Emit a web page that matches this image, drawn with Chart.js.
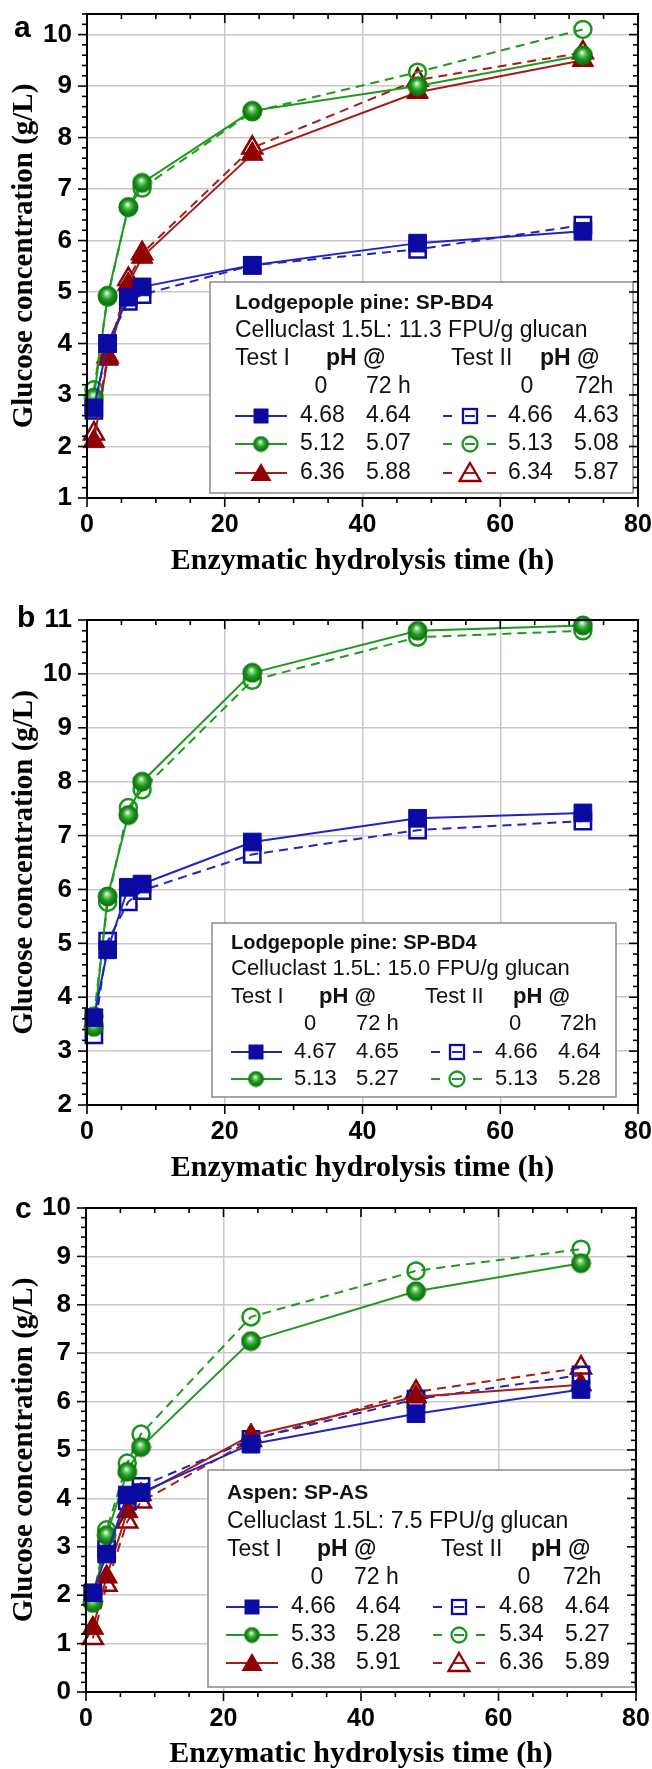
<!DOCTYPE html>
<html><head><meta charset="utf-8">
<script src="https://cdn.jsdelivr.net/npm/chart.js@4/dist/chart.umd.min.js"></script>
<style>
html,body{margin:0;padding:0;background:#fff;}
body{width:652px;height:1769px;position:relative;overflow:hidden;}
.p{position:absolute;left:0;width:652px;}
canvas{display:block;}
</style></head><body>
<div class="p" style="top:0;height:585px"><canvas id="ca"></canvas></div>
<div class="p" style="top:585px;height:600px"><canvas id="cb"></canvas></div>
<div class="p" style="top:1185px;height:584px"><canvas id="cc"></canvas></div>
<script>
// ---------------- DATA ----------------
const hours = [1, 3, 6, 8, 24, 48, 72];
const xTickValues = [0, 20, 40, 60, 80];
const xMinorStep = 5;
const yMinorStep = 0.2;

// Panel a: Lodgepole pine SP-BD4, 11.3 FPU/g glucan
const aYTicks = [1, 2, 3, 4, 5, 6, 7, 8, 9, 10];
const aBlueTest1  = [2.75, 4.0, 4.9, 5.1, 5.52, 5.95, 6.18];
const aBlueTest2  = [2.7, 4.0, 4.82, 4.95, 5.52, 5.83, 6.3];
const aGreenTest1 = [2.95, 4.93, 6.65, 7.12, 8.52, 9.0, 9.6];
const aGreenTest2 = [3.1, 4.9, 6.65, 7.02, 8.5, 9.27, 10.1];
const aRedTest1   = [2.1, 3.7, 5.15, 5.68, 7.68, 8.88, 9.5];
const aRedTest2   = [2.25, 3.75, 5.25, 5.75, 7.8, 9.12, 9.65];
const aPhTest1At0  = ['4.68', '5.12', '6.36'];
const aPhTest1At72 = ['4.64', '5.07', '5.88'];
const aPhTest2At0  = ['4.66', '5.13', '6.34'];
const aPhTest2At72 = ['4.63', '5.08', '5.87'];

// Panel b: Lodgepole pine SP-BD4, 15.0 FPU/g glucan
const bYTicks = [2, 3, 4, 5, 6, 7, 8, 9, 10, 11];
const bBlueTest1  = [3.62, 4.88, 6.04, 6.1, 6.88, 7.32, 7.42];
const bBlueTest2  = [3.3, 5.04, 5.77, 5.98, 6.65, 7.1, 7.27];
const bGreenTest1 = [3.45, 5.87, 7.38, 8.0, 10.02, 10.8, 10.9];
const bGreenTest2 = [3.65, 5.76, 7.52, 7.85, 9.88, 10.68, 10.8];
const bPhTest1At0  = ['4.67', '5.13'];
const bPhTest1At72 = ['4.65', '5.27'];
const bPhTest2At0  = ['4.66', '5.13'];
const bPhTest2At72 = ['4.64', '5.28'];

// Panel c: Aspen SP-AS, 7.5 FPU/g glucan
const cYTicks = [0, 1, 2, 3, 4, 5, 6, 7, 8, 9, 10];
const cBlueTest1  = [2.05, 2.85, 4.07, 4.12, 5.12, 5.75, 6.25];
const cBlueTest2  = [2.0, 2.95, 3.95, 4.25, 5.22, 6.05, 6.55];
const cGreenTest1 = [1.84, 3.24, 4.55, 5.06, 7.25, 8.28, 8.86];
const cGreenTest2 = [1.92, 3.35, 4.73, 5.33, 7.75, 8.7, 9.15];
const cRedTest1   = [1.32, 2.38, 3.73, 4.08, 5.3, 6.1, 6.35];
const cRedTest2   = [1.11, 2.21, 3.52, 3.93, 5.2, 6.2, 6.7];
const cPhTest1At0  = ['4.66', '5.33', '6.38'];
const cPhTest1At72 = ['4.64', '5.28', '5.91'];
const cPhTest2At0  = ['4.68', '5.34', '6.36'];
const cPhTest2At72 = ['4.64', '5.27', '5.89'];

const xTitle = 'Enzymatic hydrolysis time (h)';
const yTitle = 'Glucose concentration (g/L)';
const testLabels = ['Test I', 'Test II'];
const phHeader = 'pH @';
const hourHeads1 = ['0', '72 h'];
const hourHeads2 = ['0', '72h'];

// ---------------- STYLES ----------------
const COLORS = {
  blue:  {line: '#2424bd', fill: '#0b0ba3'},
  green: {line: '#1f9a1f', fill: '#1a961a'},
  red:   {line: '#a51c1c', fill: '#8f0000'}
};
const SANS = '"Liberation Sans", Arial, sans-serif';
const SERIF = '"Liberation Serif", "Times New Roman", serif';

function makeSphere(d) {
  const c = document.createElement('canvas');
  c.width = c.height = d + 2;
  const g = c.getContext('2d');
  const r = d / 2, cx = c.width / 2, cy = c.height / 2;
  const grad = g.createRadialGradient(cx - r * 0.1, cy - r * 0.3, r * 0.04, cx, cy, r);
  grad.addColorStop(0, '#ffffff');
  grad.addColorStop(0.22, '#7fd07f');
  grad.addColorStop(0.55, '#1f9d1f');
  grad.addColorStop(1, '#0c6a0c');
  g.fillStyle = grad;
  g.beginPath(); g.arc(cx, cy, r, 0, Math.PI * 2); g.fill();
  g.strokeStyle = '#147814'; g.lineWidth = 1; g.stroke();
  return c;
}
const spherePlot = makeSphere(19);
const sphereLegend = makeSphere(15);

function markerOpts(kind, open, col) {
  const c = COLORS[col];
  if (kind === 'square') {
    return open ? {pointStyle: 'rect', pointRadius: 11.5, pointBackgroundColor: 'rgba(255,255,255,0)', pointBorderColor: c.fill, pointBorderWidth: 2.5}
                : {pointStyle: 'rect', pointRadius: 12.5, pointBackgroundColor: c.fill, pointBorderColor: c.fill, pointBorderWidth: 1};
  }
  if (kind === 'circle') {
    return open ? {pointStyle: 'circle', pointRadius: 8.5, pointBackgroundColor: 'rgba(255,255,255,0)', pointBorderColor: c.fill, pointBorderWidth: 2.5}
                : {pointStyle: spherePlot, pointRadius: 9.5, pointBackgroundColor: c.fill, pointBorderColor: c.fill, pointBorderWidth: 0};
  }
  return open ? {pointStyle: 'triangle', pointRadius: 11.5, pointBackgroundColor: 'rgba(255,255,255,0)', pointBorderColor: c.fill, pointBorderWidth: 2.5}
              : {pointStyle: 'triangle', pointRadius: 12.5, pointBackgroundColor: c.fill, pointBorderColor: c.fill, pointBorderWidth: 1};
}

function drawLegendMarker(ctx, kind, open, col, x, y) {
  const c = COLORS[col];
  ctx.save();
  ctx.setLineDash([]);
  if (kind === 'square') {
    if (open) { ctx.strokeStyle = c.fill; ctx.lineWidth = 2.3; ctx.strokeRect(x - 7, y - 7, 14, 14); }
    else { ctx.fillStyle = c.fill; ctx.fillRect(x - 7.5, y - 7.5, 15, 15); }
  } else if (kind === 'circle') {
    if (open) { ctx.strokeStyle = c.fill; ctx.lineWidth = 2.3; ctx.beginPath(); ctx.arc(x, y, 7.5, 0, Math.PI * 2); ctx.stroke(); }
    else { ctx.drawImage(sphereLegend, x - sphereLegend.width / 2, y - sphereLegend.height / 2); }
  } else {
    ctx.beginPath(); ctx.moveTo(x, y - 10); ctx.lineTo(x + 10.5, y + 8); ctx.lineTo(x - 10.5, y + 8); ctx.closePath();
    if (open) { ctx.strokeStyle = c.fill; ctx.lineWidth = 2.3; ctx.stroke(); }
    else { ctx.fillStyle = c.fill; ctx.fill(); }
  }
  ctx.restore();
}

// ---------------- PANELS ----------------
const panels = [
  {
    id: 'ca', h: 585, padTop: 13, padRight: 14, padBottom: 9, yWidth: 87, xHeight: 78,
    ymin: 1, ymax: 10.4, yTicks: aYTicks, letter: 'a', letterPos: [14, 37],
    title: 'Lodgepople pine: SP-BD4', dose: 'Celluclast 1.5L: 11.3 FPU/g glucan',
    series: [
      {vals: aBlueTest1, kind: 'square', col: 'blue', open: false},
      {vals: aGreenTest1, kind: 'circle', col: 'green', open: false},
      {vals: aRedTest1, kind: 'triangle', col: 'red', open: false},
      {vals: aBlueTest2, kind: 'square', col: 'blue', open: true},
      {vals: aGreenTest2, kind: 'circle', col: 'green', open: true},
      {vals: aRedTest2, kind: 'triangle', col: 'red', open: true}
    ],
    ph: [aPhTest1At0, aPhTest1At72, aPhTest2At0, aPhTest2At72],
    lg: {box: [210, 282, 633, 493], ys: [303, 331, 359, 387, 416, 444, 473], size: 23, titleSize: 21,
      text: 235, ph1: 326, test2: 451, ph2: 540, zero1: 321, h1: 366, zero2: 527, h2: 575,
      line1: [235, 287], m1: 261, v1: 300, v2: 366, line2: [443, 496], m2: 470, v3: 508, v4: 574}
  },
  {
    id: 'cb', h: 600, padTop: 35, padRight: 14, padBottom: 2, yWidth: 87, xHeight: 78,
    ymin: 2, ymax: 11, yTicks: bYTicks, letter: 'b', letterPos: [17, 42],
    title: 'Lodgepople pine: SP-BD4', dose: 'Celluclast 1.5L: 15.0 FPU/g glucan',
    series: [
      {vals: bBlueTest1, kind: 'square', col: 'blue', open: false},
      {vals: bGreenTest1, kind: 'circle', col: 'green', open: false},
      {vals: bBlueTest2, kind: 'square', col: 'blue', open: true},
      {vals: bGreenTest2, kind: 'circle', col: 'green', open: true}
    ],
    ph: [bPhTest1At0, bPhTest1At72, bPhTest2At0, bPhTest2At72],
    lg: {box: [212, 338, 616, 512], ys: [358, 384, 412, 439, 467, 494], size: 22, titleSize: 20,
      text: 231, ph1: 319, test2: 425, ph2: 513, zero1: 310, h1: 356, zero2: 515, h2: 560,
      line1: [231, 282], m1: 256, v1: 294, v2: 356, line2: [431, 482], m2: 457, v3: 495, v4: 558}
  },
  {
    id: 'cc', h: 584, padTop: 23, padRight: 16, padBottom: 0, yWidth: 86, xHeight: 77,
    ymin: 0, ymax: 10, yTicks: cYTicks, letter: 'c', letterPos: [15, 33],
    title: 'Aspen: SP-AS', dose: 'Celluclast 1.5L: 7.5 FPU/g glucan',
    series: [
      {vals: cBlueTest1, kind: 'square', col: 'blue', open: false},
      {vals: cGreenTest1, kind: 'circle', col: 'green', open: false},
      {vals: cRedTest1, kind: 'triangle', col: 'red', open: false},
      {vals: cBlueTest2, kind: 'square', col: 'blue', open: true},
      {vals: cGreenTest2, kind: 'circle', col: 'green', open: true},
      {vals: cRedTest2, kind: 'triangle', col: 'red', open: true}
    ],
    ph: [cPhTest1At0, cPhTest1At72, cPhTest2At0, cPhTest2At72],
    lg: {box: [208, 285, 635, 502], ys: [308, 337, 365, 393, 422, 450, 478], size: 23, titleSize: 21,
      text: 227, ph1: 317, test2: 441, ph2: 531, zero1: 317, h1: 354, zero2: 524, h2: 563,
      line1: [226, 278], m1: 252, v1: 291, v2: 356, line2: [433, 485], m2: 459, v3: 499, v4: 565}
  }
];

function drawLegend(ctx, p) {
  const L = p.lg;
  const [x0, y0, x1, y1] = L.box;
  ctx.save();
  ctx.fillStyle = '#fff';
  ctx.fillRect(x0, y0, x1 - x0, y1 - y0);
  ctx.strokeStyle = '#8a8a8a'; ctx.lineWidth = 1.5;
  ctx.strokeRect(x0, y0, x1 - x0, y1 - y0);
  ctx.fillStyle = '#111'; ctx.textBaseline = 'middle'; ctx.textAlign = 'left';
  const reg = `${L.size}px ${SANS}`, bold = `bold ${L.size}px ${SANS}`;
  ctx.font = `bold ${L.titleSize}px ${SANS}`;
  ctx.fillText(p.title, L.text, L.ys[0]);
  ctx.font = reg;
  ctx.fillText(p.dose, L.text, L.ys[1]);
  ctx.fillText(testLabels[0], L.text, L.ys[2]);
  ctx.fillText(testLabels[1], L.test2, L.ys[2]);
  ctx.font = bold;
  ctx.fillText(phHeader, L.ph1, L.ys[2]);
  ctx.fillText(phHeader, L.ph2, L.ys[2]);
  ctx.font = reg;
  ctx.textAlign = 'center';
  ctx.fillText(hourHeads1[0], L.zero1, L.ys[3]);
  ctx.fillText(hourHeads2[0], L.zero2, L.ys[3]);
  ctx.textAlign = 'left';
  ctx.fillText(hourHeads1[1], L.h1, L.ys[3]);
  ctx.fillText(hourHeads2[1], L.h2, L.ys[3]);
  const nRows = p.ph[0].length;
  const seg = (a, b, y) => { ctx.beginPath(); ctx.moveTo(a, y); ctx.lineTo(b, y); ctx.stroke(); };
  for (let i = 0; i < nRows; i++) {
    const y = L.ys[4 + i];
    const s1 = p.series[i], s2 = p.series[nRows + i];
    // Test I sample: solid line
    ctx.strokeStyle = COLORS[s1.col].line; ctx.lineWidth = 2; ctx.setLineDash([]);
    seg(L.line1[0], L.line1[1], y);
    drawLegendMarker(ctx, s1.kind, false, s1.col, L.m1, y);
    // Test II sample: dash - marker - dash
    ctx.strokeStyle = COLORS[s2.col].line; ctx.lineWidth = 2;
    seg(L.line2[0], L.line2[0] + 9, y);
    seg(L.m2 - 5, L.m2 + 5, y);
    seg(L.line2[1] - 9, L.line2[1], y);
    drawLegendMarker(ctx, s2.kind, true, s2.col, L.m2, y);
    ctx.fillStyle = '#111'; ctx.font = reg;
    ctx.fillText(p.ph[0][i], L.v1, y);
    ctx.fillText(p.ph[1][i], L.v2, y);
    ctx.fillText(p.ph[2][i], L.v3, y);
    ctx.fillText(p.ph[3][i], L.v4, y);
  }
  ctx.restore();
}

function drawFrame(chart, p) {
  const {ctx, chartArea: a, scales: {x, y}} = chart;
  ctx.save();
  ctx.strokeStyle = '#000'; ctx.lineWidth = 1.6; ctx.setLineDash([]);
  const seg = (x1, y1, x2, y2) => { ctx.beginPath(); ctx.moveTo(x1, y1); ctx.lineTo(x2, y2); ctx.stroke(); };
  const kMin = Math.round(p.ymin / yMinorStep), kMax = Math.round(p.ymax / yMinorStep);
  const perMajor = Math.round(1 / yMinorStep);
  for (let k = kMin; k <= kMax; k++) {
    const py = y.getPixelForValue(k * yMinorStep);
    const len = (k % perMajor === 0) ? 9 : 5;
    seg(a.left - len, py, a.left, py);
    seg(a.right - len, py, a.right, py);
  }
  for (let h = 0; h <= 80; h += xMinorStep) {
    const px = x.getPixelForValue(h);
    const len = (h % 20 === 0) ? 9 : 5;
    seg(px, a.bottom, px, a.bottom + len);
    seg(px, a.top, px, a.top + len);
  }
  ctx.lineWidth = 2;
  ctx.strokeRect(a.left, a.top, a.right - a.left, a.bottom - a.top);
  ctx.fillStyle = '#000'; ctx.font = `bold 30px ${SANS}`; ctx.textAlign = 'left'; ctx.textBaseline = 'alphabetic';
  ctx.fillText(p.letter, p.letterPos[0], p.letterPos[1]);
  ctx.restore();
}

function build(p) {
  const canvas = document.getElementById(p.id);
  canvas.width = 652; canvas.height = p.h;
  canvas.style.width = '652px'; canvas.style.height = p.h + 'px';
  const datasets = p.series.map(s => Object.assign({
    data: hours.map((h, i) => ({x: h, y: s.vals[i]})),
    borderColor: COLORS[s.col].line,
    borderWidth: 2,
    borderDash: s.open ? [9, 6] : [],
    fill: false, tension: 0, clip: false
  }, markerOpts(s.kind, s.open, s.col)));
  new Chart(canvas, {
    type: 'line',
    data: {datasets},
    options: {
      responsive: false, animation: false, devicePixelRatio: 1,
      layout: {padding: {top: p.padTop, right: p.padRight, bottom: p.padBottom, left: 0}},
      plugins: {legend: {display: false}, tooltip: {enabled: false}},
      scales: {
        x: {
          type: 'linear', min: 0, max: 80,
          afterBuildTicks: sc => { sc.ticks = xTickValues.map(v => ({value: v})); },
          afterFit: sc => { sc.height = p.xHeight; sc.paddingLeft = 0; sc.paddingRight = 0; },
          grid: {color: '#c9c9c9', lineWidth: 1.5, drawTicks: false},
          border: {display: false},
          ticks: {color: '#000', font: {family: SANS, weight: 'bold', size: 25}, padding: 12, maxRotation: 0, autoSkip: false},
          title: {display: true, text: xTitle, color: '#000', font: {family: SERIF, weight: 'bold', size: 30, lineHeight: 1}, padding: 0}
        },
        y: {
          type: 'linear', min: p.ymin, max: p.ymax,
          afterBuildTicks: sc => { sc.ticks = p.yTicks.map(v => ({value: v})); },
          afterFit: sc => { sc.width = p.yWidth; sc.paddingTop = 0; sc.paddingBottom = 0; },
          grid: {color: '#c9c9c9', lineWidth: 1.5, drawTicks: false},
          border: {display: false},
          ticks: {color: '#000', font: {family: SANS, weight: 'bold', size: 26}, padding: 15, autoSkip: false},
          title: {display: true, text: yTitle, color: '#000', font: {family: SERIF, weight: 'bold', size: 29, lineHeight: 1}, padding: {top: 10, bottom: 0}}
        }
      }
    },
    plugins: [{
      id: 'frameLegend',
      afterDatasetsDraw(chart) { drawLegend(chart.ctx, p); drawFrame(chart, p); }
    }]
  });
}
panels.forEach(build);
</script>
</body></html>
